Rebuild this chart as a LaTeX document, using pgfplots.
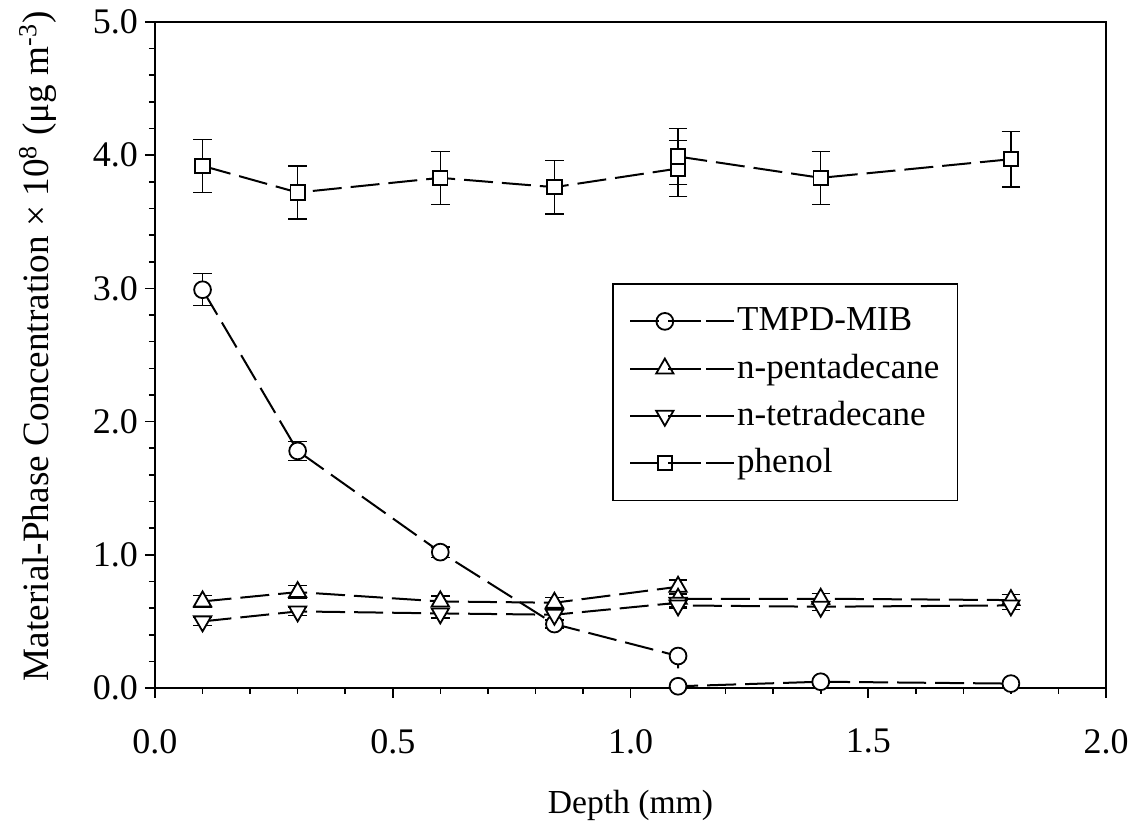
\documentclass[border=0pt]{standalone}
\usepackage{pgfplots}
\pgfplotsset{compat=1.18}
\usepackage{fontspec}
\setmainfont{Liberation Serif}
\pgfplotsset{
  mylegend/.style={legend image code/.code={
    \draw[solid, line width=1pt, mark repeat=2, mark phase=2] plot coordinates {(0pt,0pt) (17.3pt,0pt) (28.7pt,0pt)};
    \draw[solid, line width=1pt] (33pt,0pt)--(35.5pt,0pt) (39.3pt,0pt)--(42pt,0pt);
    \path (0pt,0pt) -- (52pt,0pt);
  }},
  myseries/.style={black, line width=1pt, dash pattern=on 14.5pt off 4.5pt,
    mark options={solid, fill=white, line width=0.9pt},
    error bars/y dir=both, error bars/y explicit, error bars/error mark=|,
    error bars/error mark options={solid, line width=0.7pt, mark size=4.6pt},
    error bars/error bar style={solid, line width=0.7pt}},
}
\begin{document}
\begin{tikzpicture}
\begin{axis}[
  at={(0pt,0pt)}, anchor=south west,
  scale only axis, width=475.5pt, height=333pt,
  xmin=0, xmax=2, ymin=0, ymax=5,
  xtick={0,0.5,1,1.5,2}, ytick={0,1,2,3,4,5},
  minor x tick num=4, minor y tick num=4,
  tick pos=left, tick align=outside,
  major tick length=5pt, minor tick length=3pt,
  every tick/.style={black, line width=0.8pt},
  axis line style={line width=1pt},
  /pgf/number format/fixed, /pgf/number format/fixed zerofill,
  /pgf/number format/precision=1, /pgf/number format/assume math mode=true,
  ticklabel style={font=\fontsize{18}{21}\selectfont},
  xticklabel style={yshift=-12pt},
  xlabel={Depth (mm)},
  ylabel={Material-Phase Concentration × 10\textsuperscript{8} (μg m\textsuperscript{-3})},
  xlabel style={at={(axis description cs:0.5,-0.177)}, anchor=center, font=\fontsize{16.8}{20}\selectfont},
  ylabel style={at={(axis description cs:-0.123,0.513)}, anchor=center, font=\fontsize{18.6}{21}\selectfont},
  legend style={at={(rel axis cs:0.481,0.608)}, anchor=north west, draw=black, line width=0.8pt,
    font=\fontsize{17.5}{21}\selectfont, inner xsep=8pt, inner ysep=10.5pt, row sep=7.1pt,
    nodes={inner sep=1pt, text height=12pt, text depth=2.5pt}},
  legend cell align=left,
  clip=false,
]
\addplot[myseries, mark=*, mark size=4.2pt, mylegend] coordinates {
  (0.1,2.99) +- (0,0.12)
  (0.3,1.78) +- (0,0.07)
  (0.6,1.02) +- (0,0.04)
  (0.84,0.48) +- (0,0.03)
  (1.1,0.24) +- (0,0.02)
  (1.1,0.013) +- (0,0)
  (1.4,0.047) +- (0,0.01)
  (1.8,0.033) +- (0,0.01)
};
\addlegendentry{TMPD-MIB}
\addplot[myseries, mark=triangle*, mark size=5pt, mylegend] coordinates {
  (0.1,0.65) +- (0,0.045)
  (0.3,0.72) +- (0,0.05)
  (0.6,0.65) +- (0,0.04)
  (0.84,0.64) +- (0,0.04)
  (1.1,0.76) +- (0,0.05)
  (1.1,0.67) +- (0,0.03)
  (1.4,0.67) +- (0,0.04)
  (1.8,0.66) +- (0,0.04)
};
\addlegendentry{n-pentadecane}
\addplot[myseries, mark=triangle*, mark size=5pt, mark options={solid, fill=white, line width=0.9pt, rotate=180}, mylegend] coordinates {
  (0.1,0.50) +- (0,0.03)
  (0.3,0.575) +- (0,0.03)
  (0.6,0.56) +- (0,0.035)
  (0.84,0.55) +- (0,0.04)
  (1.1,0.64) +- (0,0.03)
  (1.1,0.62) +- (0,0.02)
  (1.4,0.61) +- (0,0.03)
  (1.8,0.62) +- (0,0.03)
};
\addlegendentry{n-tetradecane}
\addplot[myseries, mark=square*, mark size=3.6pt, mylegend] coordinates {
  (0.1,3.92) +- (0,0.2)
  (0.3,3.72) +- (0,0.2)
  (0.6,3.83) +- (0,0.2)
  (0.84,3.76) +- (0,0.2)
  (1.1,3.90) +- (0,0.21)
  (1.1,3.99) +- (0,0.21)
  (1.4,3.83) +- (0,0.2)
  (1.8,3.97) +- (0,0.21)
};
\addlegendentry{phenol}
\end{axis}
\pgfresetboundingbox
\path[use as bounding box] (-77.5pt,-70pt) rectangle (490pt,344pt);
\end{tikzpicture}
\end{document}
